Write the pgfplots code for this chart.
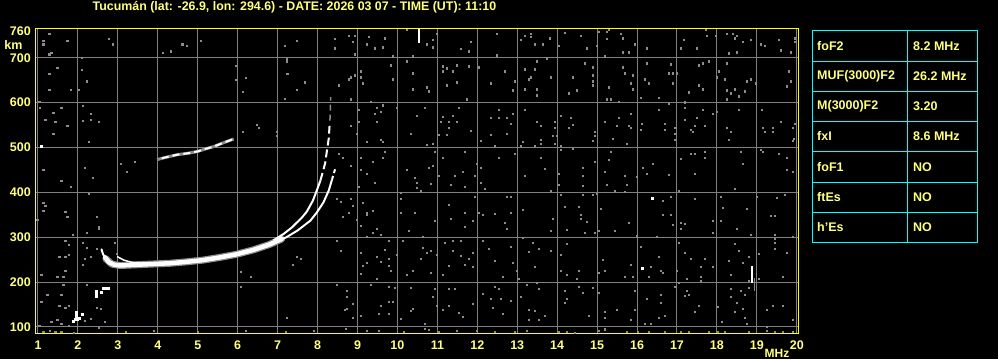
\documentclass[border=0pt]{standalone}
\usepackage{pgfplots}
\pgfplotsset{compat=1.18}
\usepackage{fontspec}
\setmainfont{Liberation Sans}
\definecolor{ylw}{RGB}{255,255,0}
\definecolor{ptxt}{RGB}{255,255,128}
\definecolor{grd}{RGB}{128,128,128}
\definecolor{cyn}{RGB}{0,255,255}
\definecolor{noise}{RGB}{140,140,140}
\begin{document}
\begin{tikzpicture}[x=1pt,y=1pt]
\fill[black] (0,0) rectangle (998,359);
\begin{axis}[
  at={(36pt,26pt)}, anchor=south west,
  width=762pt, height=304pt, scale only axis,
  xmin=0.95, xmax=20.03, ymin=86.6, ymax=764,
  xtick={1,...,20}, ytick={100,200,300,400,500,600,700},
  extra y ticks={760}, extra y tick style={grid=none},
  grid=major, major grid style={grd, line width=1pt},
  axis line style={ylw, line width=1pt},
  major tick length=0pt,
  tick label style={font=\bfseries\fontsize{12.5}{13}\selectfont, text=ptxt},
  /pgf/number format/assume math mode=true,
  /pgf/number format/1000 sep={},
  xticklabel style={anchor=north, inner sep=0pt, yshift=-7.7pt},
  yticklabel style={anchor=east, inner sep=0pt, xshift=-5pt},
]
% background noise (gray dots)
\addplot[only marks, mark=square*, mark size=0.55pt, color=noise, mark options={draw=none, fill=noise}] coordinates {
(1.28,752.6)(1.13,738.4)(1.13,730.2)(1.73,738.4)(2.78,742.9)(2.88,730.2)(1.33,711.6)(1.28,707.9)(2.09,700.5)(4.13,711.6)(4.33,714.6)(4.61,730.2)(4.73,726.5)(5.08,738.4)(7.18,725.8)(7.23,696.7)(7.23,691.5)(1.48,678.1)(2.09,673.7)(1.28,664.8)(2.23,647.6)(5.94,682.6)(6.19,655.8)(5.94,651.4)(7.24,664.8)(1.28,629)(1.83,629)(2.03,629)(6.13,624.6)(7.18,608.9)(1.03,601.5)(1.04,588.9)(1.58,588.9)(2.13,593.3)(1.38,577.7)(1.18,562.1)(1.43,557.6)(2.13,560.6)(2.33,575.5)(2.33,562.1)(2.53,557.6)(1.73,548.7)(1.38,530.8)(2.28,513)(6.48,551.7)(6.53,544.2)(6.13,535.3)(6.98,535.3)(6.98,526.4)(3.08,463.9)(3.23,446)(3.43,468.3)(2.18,454.9)(2.38,432.6)(1.13,450.5)
(7.48,738.4)(8.43,741.4)(8.78,748.1)(8.93,748.1)(8.88,734.7)(8.43,721.3)(9.28,745.9)(9.23,730.2)(9.68,743.6)(9.43,721.3)(9.63,723.5)(10.23,761.5)(10.73,730.2)(10.88,739.2)(10.88,723.5)(10.98,752.6)(8.93,707.9)(9.88,703.4)(10.38,703.4)(10.23,692.3)(9.83,683.4)(11.13,681.1)(11.23,676.7)(11.48,683.4)(11.78,681.1)(11.13,670)(11.38,670)(12.03,678.9)(12.48,752.6)(11.58,719.1)(11.83,734.7)(11.78,714.6)(12.48,705.7)(13.08,739.2)(13.18,748.1)(13.33,752.6)(13.33,745.9)(13.43,730.2)(13.63,730.2)(13.48,692.3)(7.68,645.4)(7.48,629)(8.53,638.7)(8.78,652.1)(8.83,656.6)(8.93,661)(9.08,670)(9.08,656.6)(9.13,643.2)(9.88,652.1)(10.38,665.5)(10.73,634.2)(10.78,625.3)(10.38,629.8)(11.48,645.4)(11.73,607.5)(11.23,638.7)(12.33,643.2)(12.68,670)(12.88,627.6)(12.93,647.6)(13.18,674.4)(13.28,652.1)(13.33,656.6)(13.43,674.4)(13.18,629.8)(13.48,629.8)(13.48,616.4)(9.33,603)(8.83,607.5)(9.03,585.1)(9.48,589.6)(9.63,594.1)(9.58,580.7)(9.43,576.2)(9.03,558.4)(9.48,558.4)(9.98,589.6)(10.48,571.7)(10.68,589.6)(11.13,569.5)(11.28,558.4)(11.38,571.7)(11.53,589.6)(11.08,558.4)(11.48,558.4)(11.28,545)(11.83,538.3)(11.03,529.3)(11.23,529.3)(10.33,531.6)(10.73,507)(10.88,509.3)(9.23,513.7)(9.58,518.2)(9.63,513.7)(8.83,549.4)(8.98,531.6)(12.33,567.3)(12.53,585.1)(12.53,567.3)(12.73,567.3)(12.83,553.9)(12.73,531.6)(12.33,529.3)(12.08,516)(12.43,504.8)(13.08,504.8)(13.13,513.7)(13.43,504.8)(13.48,558.4)(13.58,549.4)(13.18,585.1)(12.88,576.2)(13.58,518.2)(13.58,509.3)(8.53,486.9)(8.63,478)(8.83,460.1)(9.08,478)(9.08,451.2)(9.38,469.1)(9.23,442.3)(9.63,478)(9.68,491.4)(10.23,451.2)(10.43,433.4)(10.78,455.7)(10.88,460.1)(10.93,491.4)(11.03,437.8)(11.13,478)(11.43,437.8)(11.68,491.4)(11.63,446.8)(11.98,464.6)(12.08,455.7)(11.93,437.8)(12.53,478)(12.93,486.9)(13.18,437.8)(13.58,478)
(14.19,754.8)(14.58,748.1)(15.03,757)(15.24,757)(15.29,761.5)(15.24,741.4)(15.59,752.6)(15.64,743.6)(15.94,730.2)(13.81,743.6)(14.03,725.8)(14.74,721.3)(14.99,725.8)(15.19,703.4)(15.64,712.4)(15.79,712.4)(16.24,721.3)(17.09,721.3)(17.16,739.2)(17.49,721.3)(17.71,761.5)(17.74,748.1)(17.96,748.1)(18.24,752.6)(18.39,752.6)(18.49,748.1)(18.44,743.6)(18.64,734.7)(18.84,739.2)(18.29,710.1)(18.49,712.4)(19.09,730.2)(19.19,725.8)(19.54,739.2)(19.59,716.8)(19.84,712.4)(19.94,743.6)(19.94,734.7)(13.73,699)(13.84,656.6)(14.39,656.6)(14.49,627.6)(14.29,620.9)(14.69,687.8)(14.89,678.9)(14.89,661)(14.89,647.6)(14.89,638.7)(15.29,634.2)(15.64,678.9)(15.69,665.5)(15.89,661)(15.84,643.2)(15.89,629.8)(15.24,607.5)(15.34,607.5)(15.54,603)(16.09,611.9)(16.24,687.8)(16.19,652.1)(16.29,643.2)(16.54,611.9)(16.84,685.6)(16.79,665.5)(16.89,665.5)(16.99,665.5)(16.89,643.2)(17.29,623.1)(17.19,600.8)(17.54,683.4)(17.64,687.8)(17.79,692.3)(17.54,638.7)(17.64,629.8)(18.04,670)(17.99,656.6)(18.19,652.1)(18.24,687.8)(18.24,627.6)(18.34,620.9)(18.44,629.8)(18.54,614.2)(18.69,625.3)(18.74,647.6)(18.84,652.1)(18.96,643.2)(18.24,607.5)(19.79,670)(19.84,647.6)(19.74,636.5)(13.94,558.4)(14.09,571.7)(14.34,567.3)(14.39,551.7)(14.29,545)(13.94,545)(13.89,527.1)(13.99,527.1)(14.09,504.8)(13.93,509.2)(14.94,536)(14.94,527.1)(14.89,515.9)(15.19,558.4)(15.39,520.4)(15.49,549.4)(15.54,567.3)(15.79,549.4)(15.84,545)(15.84,576.2)(15.74,509.2)(16.11,553.9)(16.09,540.5)(16.54,585.1)(16.69,553.9)(16.69,540.5)(16.94,545)(16.94,531.6)(16.94,518.2)(16.79,598.5)(17.19,589.6)(17.19,562.8)(17.34,540.5)(17.39,536)(17.44,549.4)(17.49,567.3)(17.69,549.4)(17.64,585.1)(17.89,576.2)(17.99,580.7)(18.24,545)(18.29,518.2)(18.34,536)(18.54,585.1)(19.11,585.1)(19.14,545)(19.19,536)(19.39,545)(19.39,536)(19.59,558.4)(19.89,545)(19.94,553.9)(19.89,515.9)(19.93,520.4)(14.09,495.9)(14.39,498.1)(14.64,455.7)(14.64,437.8)(14.94,469.1)(15.19,446.7)(15.29,473.5)(15.34,491.4)(15.69,437.8)(15.99,435.6)(16.14,455.7)(16.24,442.3)(16.39,464.6)(16.79,440.1)(17.09,475.8)(17.34,486.9)(17.44,486.9)(17.44,442.3)(17.69,491.4)(17.69,478)(18.59,491.4)(18.64,464.6)(19.09,495.9)(19.14,491.4)(19.54,486.9)(19.74,478)(19.89,446.7)(19.74,451.2)(13.69,452.7)(14.03,442.3)
(1.58,425.9)(1.83,413.3)(2.28,397.6)(1.13,377.5)(1.18,370.8)(1.13,359.7)(1.68,357.4)(1.73,346.3)(2.48,346.3)(0.98,338.8)(2.53,319.5)(2.53,324)(2.23,310.6)(1.88,306.1)(1.68,292.7)(1.78,283.8)(2.13,288.3)(2.23,277.1)(2.48,274.9)(2.93,288.3)(2.98,263.7)(1.53,257)(1.68,257)(1.78,261.5)(2.18,252.5)(2.13,239.1)(2.33,257)(1.68,225.8)(1.08,216.1)(1.48,212.4)(1.63,212.4)(2.23,194.5)(1.63,194.5)(1.23,172.2)(1.58,172.2)(1.08,156.6)(1.53,147.6)(1.68,143.2)(1.78,147.6)(2.48,143.2)(2.58,140.9)(2.33,118.6)(2.18,114.1)(1.33,111.9)(1.48,116.4)(1.58,107.4)(1.78,103)(1.03,103)(2.53,98.5)(1.13,89.6)(1.43,89.6)(1.58,89.6)(6.08,223.5)(6.08,190)(6.33,212.4)(7.23,120.8)(2.68,111.9)
(9.03,412.7)(9.43,422.2)(10.48,422.2)(10.48,411)(10.83,419.9)(11.33,417.7)(11.68,412.7)(12.08,422.2)(12.18,408.8)(10.58,404.3)(10.08,399.9)(10.08,386.5)(8.48,386.5)(8.58,379.8)(8.83,386.5)(8.88,370.8)(9.13,377.5)(9.23,355.2)(9.23,350.8)(9.38,359.7)(8.98,339.6)(8.63,346.3)(8.78,355.2)(9.08,326.2)(9.48,319.5)(9.38,310.6)(9.58,306.1)(9.23,301.6)(10.08,355.2)(10.43,355.2)(10.28,315)(10.93,337.4)(11.28,373.1)(11.33,341.8)(11.68,355.2)(11.68,324)(11.88,337.4)(11.93,390.9)(12.03,355.2)(12.13,350.8)(12.43,353)(12.73,390.9)(12.83,390.9)(12.83,355.2)(12.68,332.9)(12.73,319.5)(13.13,361.9)(13.13,299.4)(8.48,292.7)(8.58,270.4)(8.48,194.5)(8.73,181.1)(8.73,167.7)(8.68,138.7)(8.88,152.1)(9.08,265.9)(9.13,236.9)(9.08,219.1)(9.23,243.6)(9.33,194.5)(9.48,257)(9.58,245.8)(9.48,207.9)(9.68,272.6)(9.78,292.7)(9.78,236.9)(9.83,225.8)(9.78,252.5)(9.98,261.5)(10.13,292.7)(10.23,216.8)(10.38,225.8)(10.63,301.6)(10.63,277.1)(10.58,252.5)(10.73,265.9)(10.83,270.4)(10.98,261.5)(10.83,221.3)(11.18,288.3)(11.38,292.7)(11.58,292.7)(11.58,259.2)(11.68,239.1)(11.78,252.5)(11.88,265.9)(11.88,234.7)(11.38,270.4)(11.13,216.8)(11.28,236.9)(12.13,292.7)(12.28,274.9)(12.43,248.1)(12.63,212.4)(12.83,279.3)(12.88,243.6)(12.98,225.8)(13.03,207.9)(13.28,268.2)(13.43,234.7)(13.53,274.9)(13.38,288.3)(9.78,190)(9.93,187.8)(10.33,187.8)(10.93,185.6)(11.28,185.6)(11.43,185.6)(12.13,174.4)(12.43,190)(12.53,185.6)(12.33,163.3)(12.58,163.3)(13.08,167.7)(13.23,194.5)(13.53,185.6)(13.48,199)(7.48,257)(7.58,252.5)(7.38,239.1)(8.73,140.9)(8.88,120.8)(9.08,125.3)(9.53,129.8)(9.58,147.6)(9.78,129.8)(9.78,156.6)(9.88,156.6)(10.08,118.6)(10.33,136.5)(10.38,140.9)(10.68,107.4)(10.88,167.7)(10.98,147.6)(11.13,138.7)(11.28,147.6)(11.53,132)(11.63,123.1)(11.88,152.1)(12.38,143.2)(12.63,129.8)(12.83,158.8)(13.28,138.7)(13.43,136.5)(13.28,116.4)(13.53,116.4)
(14.03,417.7)(14.64,415.5)(15.24,417.7)(15.44,404.3)(15.69,402.1)(15.74,417.7)(13.84,404.3)(14.09,395.4)(14.64,395.4)(14.89,395.4)(14.99,397.6)(16.84,390.9)(16.64,382)(17.04,404.3)(17.44,386.5)(18.09,390.9)(18.14,366.4)(18.44,408.8)(18.74,364.1)(18.99,390.9)(19.49,388.7)(19.69,395.4)(14.19,368.6)(14.54,368.6)(14.59,350.8)(14.59,341.8)(14.74,335.1)(13.89,341.8)(15.09,364.1)(15.79,332.9)(16.64,350.8)(16.84,350.8)(16.89,328.4)(17.09,332.9)(17.19,330.7)(17.09,319.5)(17.89,337.4)(18.09,337.4)(17.89,310.6)(18.49,319.5)(18.84,306.1)(19.44,348.5)(19.34,348.5)(19.44,306.1)(19.44,297.2)(19.44,288.3)(19.44,274.9)(19.89,301.6)(19.74,265.9)(13.84,315)(14.24,317.3)(14.69,310.6)(14.94,310.6)(15.04,315)(15.44,315)(15.99,303.9)(16.49,301.6)(17.04,288.3)(14.24,286)(13.84,270.4)(14.09,261.5)(15.14,250.3)(16.09,279.3)(16.54,257)(15.84,239.1)(16.34,234.7)(16.59,225.8)(16.64,221.3)(17.34,252.5)(17.69,252.5)(17.59,234.7)(17.89,234.7)(17.19,265.9)(18.44,286)(18.54,270.4)(18.79,257)(18.29,248.1)(18.64,243.6)(19.04,263.7)(14.09,225.8)(14.54,225.8)(14.24,216.8)(14.49,207.9)(15.19,225.8)(15.04,221.3)(15.69,212.4)(15.89,212.4)(16.29,212.4)(16.99,225.8)(17.24,207.9)(17.59,212.4)(17.59,203.4)(17.04,199)(18.34,216.8)(18.79,203.4)(19.04,207.9)(19.64,212.4)(14.19,181.1)(14.24,163.3)(14.19,154.3)(14.54,190)(14.64,176.6)(14.89,187.8)(15.04,176.6)(15.94,181.1)(16.24,163.3)(16.59,172.2)(16.59,154.3)(16.94,190)(17.19,169.9)(17.29,172.2)(17.24,181.1)(17.54,147.6)(18.34,185.6)(18.34,167.7)(18.59,181.1)(18.69,172.2)(18.79,187.8)(18.49,154.3)(18.03,145.4)(18.44,134.2)(18.64,140.9)(18.69,120.8)(18.74,107.4)(18.11,111.9)(17.44,134.2)(16.54,120.8)(16.69,125.3)(16.19,107.4)(16.34,107.4)(15.94,138.7)(15.84,116.4)(15.49,138.7)(15.19,134.2)(15.19,120.8)(14.79,125.3)(13.69,125.3)(19.64,147.6)(19.24,138.7)(19.24,100.8)(19.39,147.6)(19.89,116.4)
(7.9,92)(8.7,96)(9.23,92)(9.53,92)(10.15,90)(10.68,96)(10.78,93)(11.03,90)(11.48,92)(11.98,92)(12.43,90)(12.93,90)(13.23,92)(14.03,90)(14.23,90)(14.44,88)(15.03,92)(15.19,95)(15.74,90)(16.02,90)(16.29,90)(16.69,90)(17.09,90)(17.29,90)(17.79,90)(18.03,90)(18.19,90)(18.79,90)(19.24,92)(19.44,90)(19.64,90)(19.89,90)(1.3,92)(1.6,90)(1.9,88)(3.2,90)(3.9,92)(5.0,90)(6.2,91)(7.2,90)
};
% gray fringe around the main trace
\addplot[noise, line width=7pt, line cap=round, line join=round] coordinates {(2.7,252)(2.85,240)(3.05,237)(3.3,238)(3.8,240)(4.3,242)(4.7,245)(5.13,249)(5.55,255)(5.97,262)(6.4,272)(6.8,284)(7.1,296)};
% main (lower) trace
\addplot[white, line width=4.5pt, line cap=round, line join=round] coordinates {(2.68,255)(2.78,244)(2.9,239)(3.05,237)(3.3,238)(3.8,240)(4.3,242)(4.7,245)(5.13,249)(5.55,255)(5.97,262)(6.4,272)(6.8,284)(7.1,296)};
\addplot[white, line width=2pt, line cap=round] coordinates {(2.59,273)(2.63,262)(2.68,255)};
\addplot[white, line width=2pt, line join=round] coordinates {(7.0,292)(7.22,300)(7.5,315)(7.82,337)(7.98,355)(8.15,378)(8.28,404)(8.36,428)};
\addplot[white, line width=2pt, dash pattern=on 4pt off 3pt] coordinates {(8.36,428)(8.40,440)(8.44,452)};
% second (outer) trace
\addplot[white, line width=2pt, line join=round] coordinates {(6.9,293)(7.16,308)(7.36,322)(7.61,344)(7.73,357)(7.88,381)(7.98,404)(8.07,426)};
\addplot[white, line width=2pt, dash pattern=on 8pt off 4pt] coordinates {(8.07,426)(8.13,445)(8.19,465)(8.23,490)(8.28,520)(8.30,548)};
\addplot[noise, line width=1.5pt, dash pattern=on 6pt off 4pt] coordinates {(8.31,560)(8.33,612)};
% thin inner branch near 3 MHz
\addplot[white, line width=1.5pt] coordinates {(2.98,257)(3.15,249)(3.35,244)(3.6,242)};
% multiple-hop segment
\addplot[noise, line width=3pt] coordinates {(3.98,473)(4.2,478)(4.49,484)(4.75,487)(4.99,491)(5.2,497)(5.4,502)(5.6,509)(5.9,519)};
\addplot[white, line width=2pt, dash pattern=on 7pt off 4pt] coordinates {(4.1,476)(4.2,478)(4.49,484)(4.75,487)(4.99,491)(5.2,497)(5.4,502)(5.6,509)(5.9,519)};
% spikes
\addplot[white, line width=2pt] coordinates {(10.53,764)(10.53,733)};
\addplot[white, line width=2pt] coordinates {(18.89,236)(18.89,199)};
\addplot[noise, line width=1.5pt] coordinates {(18.94,210)(18.94,180)};
% isolated white echoes
\addplot[only marks, mark=square*, mark size=1pt, color=white, mark options={draw=none, fill=white}] coordinates {
(1.95,134)(1.95,128)(1.95,122)(1.92,117)(1.98,117)(2.03,120)(2.10,128)(1.88,114)(2.45,180)(2.45,172)(2.45,168)(2.59,177)(2.63,186)(2.70,186)(2.76,186)(1.08,503)(16.39,386.5)(16.14,230.2)};
\end{axis}
% labels
\node[text=ptxt, font=\bfseries\fontsize{12.4}{13}\selectfont] at (294.5,352) {Tucumán (lat: -26.9, lon: 294.6) - DATE: 2026 03 07 - TIME (UT): 11:10};
\node[text=ptxt, font=\bfseries\fontsize{12.5}{13}\selectfont, inner sep=0pt] at (13.5,314) {km};
\node[text=ptxt, font=\bfseries\fontsize{12}{13}\selectfont, inner sep=0pt] at (777,6) {MHz};
% parameter table
\draw[cyn, line width=1pt] (812,116.7) rectangle (977,328.7);
\draw[cyn, line width=1pt] (907,116.7) -- (907,328.7);
\foreach \yy in {297.7,267.7,237.7,207.7,176.7,146.7} {\draw[cyn, line width=1pt] (812,\yy) -- (977,\yy);}
\begin{scope}[every node/.style={text=ptxt, font=\bfseries\fontsize{12.5}{13}\selectfont, anchor=west, inner sep=0pt}]
\node at (817,313.2) {foF2};        \node at (913,313.2) {8.2 MHz};
\node at (817,282.7) {MUF(3000)F2}; \node at (913,282.7) {26.2 MHz};
\node at (817,252.7) {M(3000)F2};   \node at (913,252.7) {3.20};
\node at (817,222.7) {fxI};         \node at (913,222.7) {8.6 MHz};
\node at (817,192.2) {foF1};        \node at (913,192.2) {NO};
\node at (817,161.7) {ftEs};        \node at (913,161.7) {NO};
\node at (817,131.7) {h'Es};        \node at (913,131.7) {NO};
\end{scope}
\pgfresetboundingbox
\useasboundingbox (0,0) rectangle (998,359);
\end{tikzpicture}
\end{document}
